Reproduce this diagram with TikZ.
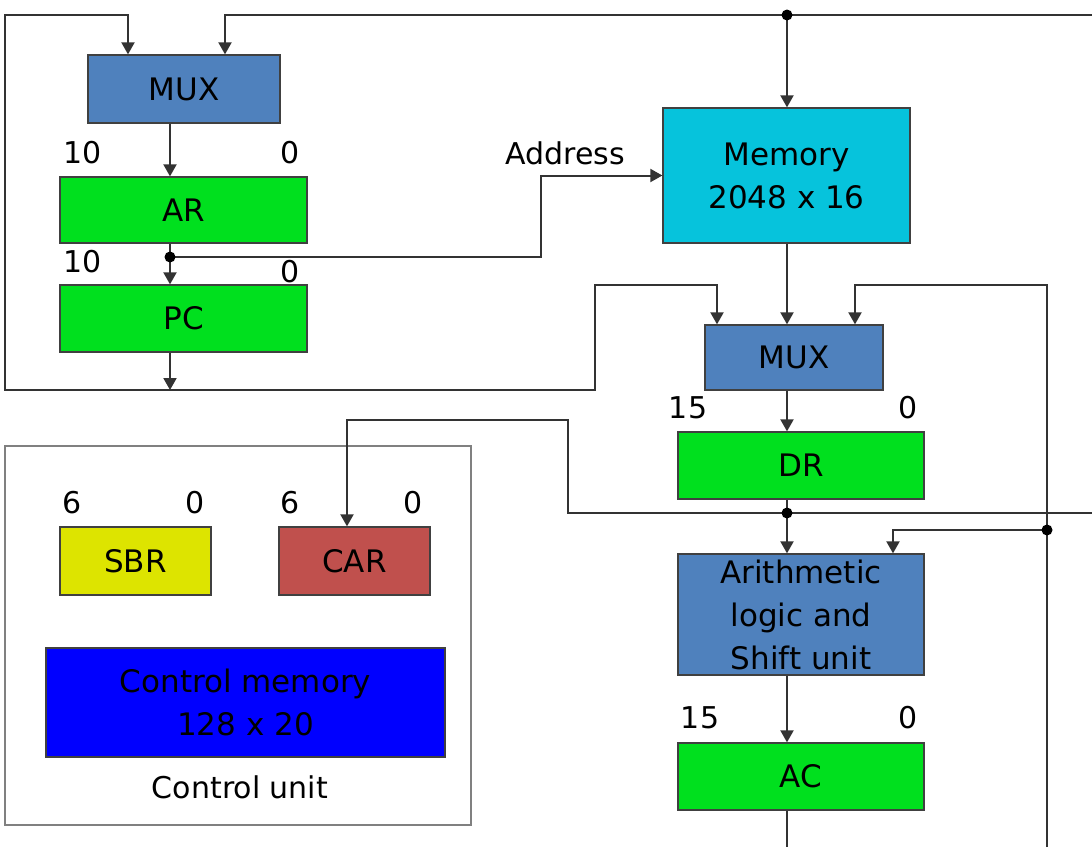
\documentclass[tikz,border=0pt]{standalone}
\usepackage{fontspec}
\setmainfont{DejaVu Sans}
\usetikzlibrary{arrows.meta}
\definecolor{muxblue}{HTML}{4F81BD}
\definecolor{reggreen}{HTML}{00E01E}
\definecolor{memcyan}{HTML}{06C3DC}
\definecolor{sbryellow}{HTML}{DDE400}
\definecolor{carred}{HTML}{C0504D}
\definecolor{cmblue}{HTML}{0000FF}
\definecolor{wirec}{HTML}{333333}
\definecolor{edgec}{HTML}{404040}
\definecolor{cuedge}{HTML}{808080}
\begin{document}
\begin{tikzpicture}[x=1pt,y=-1pt,
 >={Triangle[width=13pt,length=12pt]},
 box/.style={draw=edgec,line width=1.3pt,rectangle,inner sep=0pt,align=center,font=\fontsize{31}{43}\selectfont},
 lbl/.style={inner sep=0pt,font=\fontsize{30}{36}\selectfont},
 wire/.style={draw=wirec,line width=2pt},
 dot/.style={circle,fill=black,inner sep=0pt,minimum size=11pt}]
\useasboundingbox (0,0) rectangle (1092,847);
\fill[white] (0,0) rectangle (1092,847);

% control unit frame
\node[draw=cuedge,line width=1.6pt,rectangle,inner sep=0pt,minimum width=466pt,minimum height=379pt] (cu) at (238,635.5) {};

% blocks
\node[box,fill=muxblue,minimum width=192pt,minimum height=68pt] (mux1) at (184,89) {MUX};
\node[box,fill=reggreen,minimum width=247pt,minimum height=66pt] (ar) at (183.5,210) {AR};
\node[box,fill=reggreen,minimum width=247pt,minimum height=67pt] (pc) at (183.5,318.5) {PC};
\node[box,fill=memcyan,minimum width=247pt,minimum height=135pt] (mem) at (786.5,175.5) {Memory\\2048 x 16};
\node[box,fill=muxblue,minimum width=178pt,minimum height=65pt] (mux2) at (794,357.5) {MUX};
\node[box,fill=reggreen,minimum width=246pt,minimum height=67pt] (dr) at (801,465.5) {DR};
\node[box,fill=muxblue,minimum width=246pt,minimum height=121pt] (alu) at (801,614.5) {Arithmetic\\logic and\\Shift unit};
\node[box,fill=reggreen,minimum width=246pt,minimum height=67pt] (ac) at (801,776.5) {AC};
\node[box,fill=sbryellow,minimum width=151pt,minimum height=68pt] (sbr) at (135.5,561) {SBR};
\node[box,fill=carred,minimum width=151pt,minimum height=68pt] (car) at (354.5,561) {CAR};
\node[box,fill=cmblue,minimum width=399pt,minimum height=109pt] (cm) at (245.5,702.5) {Control memory\\128 x 20};

% labels
\node[lbl] (l1) at (83,153) {10};
\node[lbl] (l2) at (290,153) {0};
\node[lbl] (l3) at (83,262) {10};
\node[lbl] (l4) at (290,272) {0};
\node[lbl] (l5) at (565,153) {Address};
\node[lbl] (l6) at (688,408) {15};
\node[lbl] (l7) at (908,408) {0};
\node[lbl] (l8) at (700,718) {15};
\node[lbl] (l9) at (908,718) {0};
\node[lbl] (l10) at (72,503) {6};
\node[lbl] (l11) at (195,503) {0};
\node[lbl] (l12) at (290,503) {6};
\node[lbl] (l13) at (413,503) {0};
\node[lbl] (l14) at (240,787) {Control unit};

% coordinates
\coordinate (a1) at (128,15);
\coordinate (tl) at (5,15);
\coordinate (bl) at (5,390);
\coordinate (b1) at (595,390);
\coordinate (b2) at (595,285);
\coordinate (b3) at (717,285);
\coordinate (a2) at (225,15);
\coordinate (tr) at (1092,15);
\coordinate (j1) at (787,15);
\coordinate (cA) at (170,257);
\coordinate (ad) at (541,257);
\coordinate (pcout) at (170,390);
\coordinate (rb) at (1047,847);
\coordinate (rt) at (1047,285);
\coordinate (m3) at (855,285);
\coordinate (j2) at (787,513);
\coordinate (rr) at (1092,513);
\coordinate (c1) at (568,513);
\coordinate (c2) at (568,420);
\coordinate (c3) at (347,420);
\coordinate (j3) at (1047,530);
\coordinate (c4) at (893,530);
\coordinate (acb) at (787,847);

% wires
\draw[wire,<->] (mux1.north -| a1) -- (a1) -- (tl) -- (bl) -- (b1) -- (b2) -- (b3) -- (mux2.north -| b3);
\draw[wire,->] (tr) -- (a2) -- (mux1.north -| a2);
\draw[wire,->] (j1) -- (mem.north -| j1);
\draw[wire,->] (mux1.south -| cA) -- (ar.north -| cA);
\draw[wire,->] (ar.south -| cA) -- (cA) -- (pc.north -| cA);
\draw[wire,->] (cA) -- (ad) |- (mem.west);
\draw[wire,->] (pc.south -| pcout) -- (pcout);
\draw[wire,->] (mem.south -| j2) -- (mux2.north -| j2);
\draw[wire,->] (rb) -- (rt) -- (m3) -- (mux2.north -| m3);
\draw[wire,->] (mux2.south -| j2) -- (dr.north -| j2);
\draw[wire] (dr.south -| j2) -- (j2);
\draw[wire,->] (j2) -- (alu.north -| j2);
\draw[wire,->] (rr) -- (c1) -- (c2) -- (c3) -- (car.north -| c3);
\draw[wire,->] (j3) -- (c4) -- (alu.north -| c4);
\draw[wire,->] (alu.south -| j2) -- (ac.north -| j2);
\draw[wire] (ac.south -| acb) -- (acb);

% junction dots
\node[dot] (d1) at (j1) {};
\node[dot] (d2) at (cA) {};
\node[dot] (d3) at (j2) {};
\node[dot] (d4) at (j3) {};
\end{tikzpicture}
\end{document}
